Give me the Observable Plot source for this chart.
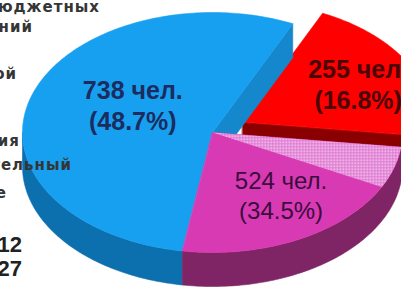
<!DOCTYPE html>
<html><head><meta charset="utf-8">
<script src="https://cdn.jsdelivr.net/npm/d3@7"></script>
<script src="https://cdn.jsdelivr.net/npm/@observablehq/plot@0.6"></script>
<style>
html,body{margin:0;padding:0;background:#fff;}
#chart{position:relative;width:401px;height:291px;overflow:hidden;background:#fff;}
#chart svg{position:absolute;left:0;top:0;}
.lg{position:absolute;white-space:nowrap;text-align:right;font-family:"DejaVu Sans",sans-serif;font-weight:bold;font-size:15px;line-height:15px;letter-spacing:1px;color:#353535;}
.lg.num{font-family:"Liberation Sans",Arial,sans-serif;font-size:22px;line-height:22px;letter-spacing:0;color:#222;}
</style></head><body><div id="chart"></div>
<script>
// ---- data ----
const categories = ["бюджетные учреждения", "казенные учреждения", "самостоятельный баланс"];
const people = [738, 255, 524];
const percents = [48.7, 16.8, 34.5];
const hatchShare = [0, 0, 0.17];          // part of the slice drawn with a dotted pattern
const legendLines = ["бюджетных", "учреждений", "казенной", "учреждения", "самостоятельный", "на балансе"];
const legendNumbers = ["2012", "2027"];

// ---- layout / style ----
const pieOrder = [1, 2, 0];               // drawing order around the pie
const explode = [0, 0.18, 0];
const topColor = ["#17a0f0", "#ff0000", "#d83ab4"];
const sideColor = ["#0c6fae", "#8a0000", "#7f2464"];
const cutColor = ["#1587cd", "#8a0000", "#8a2a6e"];
const labelColor = ["#1c2c5e", "#4a0505", "#3a0c3c"];
const labelWeight = ["bold", "bold", "normal"];
const labelPlace = [{k: 0.48, turn: 12}, {k: 0.69, turn: 1}, {k: 0.63, turn: 2}];
const legendLayout = [{end: 100, base: 13}, {end: 33, base: 33}, {end: 17, base: 80}, {end: 20, base: 147}, {end: 72, base: 171}, {end: 7, base: 199}];
const numLayout = [{end: 22, base: 253}, {end: 22, base: 277}];

const W = 401, H = 291;
const CX = 212, CY = 132, RX = 190, RY = 120, DEPTH = 34;
const START = -74.6, WARP_A = 21.1, WARP_B = 258.4;   // 3-D view projection of angles
const rad = Math.PI / 180;
const warp = t => t + WARP_A * Math.sin((t - WARP_B) * rad);
const rim = (phi, off, dz = 0) => ({x: CX + off.x + RX * Math.cos(phi * rad), y: CY + off.y + RY * Math.sin(phi * rad) + dz});
const arc = (a, b, off, dz = 0) => {
  const n = Math.max(2, Math.ceil(Math.abs(b - a)));
  return d3.range(n + 1).map(i => rim(a + (b - a) * i / n, off, dz));
};

const total = d3.sum(people);
let acc = START;
const slices = pieOrder.map(i => {
  const span = people[i] / total * 360;
  const a0 = acc, a1 = acc + span; acc = a1;
  const p0 = warp(a0), p1 = warp(a1), mid = (p0 + p1) / 2;
  const e = explode[i];
  const off = {x: e * RX * Math.cos(mid * rad), y: e * RY * Math.sin(mid * rad)};
  return {i, a0, a1, span, p0, p1, mid, off};
});

const polys = []; // painter's order
const n = slices.length;
const order = slices.map((s, j) => j).sort((a, b) => Math.sin(slices[a].mid * rad) - Math.sin(slices[b].mid * rad));
for (const j of order) {
  const s = slices[j], i = s.i;
  const prev = slices[(j - 1 + n) % n], next = slices[(j + 1) % n];
  const apex = {x: CX + s.off.x, y: CY + s.off.y};
  const apexD = {x: apex.x, y: apex.y + DEPTH};
  // outer wall (front part)
  for (let k = -1; k <= 1; k++) {
    const lo = Math.max(s.p0, 360 * k), hi = Math.min(s.p1, 360 * k + 180);
    if (hi > lo) polys.push({pts: [...arc(lo, hi, s.off), ...arc(hi, lo, s.off, DEPTH)], fill: sideColor[i]});
  }
  // cut faces beside an exploded gap
  if (Math.cos(s.p1 * rad) > 0 && (explode[i] || explode[next.i]))
    polys.push({pts: [apex, rim(s.p1, s.off), rim(s.p1, s.off, DEPTH), apexD], fill: cutColor[i]});
  if (Math.cos(s.p0 * rad) < 0 && (explode[i] || explode[prev.i]))
    polys.push({pts: [apex, rim(s.p0, s.off), rim(s.p0, s.off, DEPTH), apexD], fill: cutColor[i]});
  // top
  polys.push({pts: [apex, ...arc(s.p0, s.p1, s.off)], fill: topColor[i]});
  if (hatchShare[i] > 0) {
    const h1 = warp(s.a0 + s.span * hatchShare[i]);
    polys.push({pts: [apex, ...arc(s.p0, h1, s.off)], fill: "url(#hatch)", hatch: true});
  }
}

const labels = slices.map(s => {
  const i = s.i, p = labelPlace[i];
  const ang = (s.mid + p.turn) * rad;
  return {
    x: CX + s.off.x + p.k * RX * Math.cos(ang),
    y: CY + s.off.y + p.k * RY * Math.sin(ang),
    text: `${people[i]} чел.\n(${percents[i].toFixed(1)}%)`, i
  };
});

const marks = polys.map(p => Plot.line(p.pts, {x: "x", y: "y", curve: "linear-closed", fill: p.fill, stroke: p.hatch ? "none" : p.fill, strokeWidth: 0.6, className: p.hatch ? "hatchpoly" : undefined}));
for (const l of labels) {
  marks.push(Plot.text([l], {x: "x", y: "y", text: "text", fill: labelColor[l.i], fontSize: l.i === 2 ? 24 : 25,
    fontWeight: labelWeight[l.i], fontFamily: "Liberation Sans, Arial, sans-serif", lineHeight: 1.25}));
}

const svg = Plot.plot({
  width: W, height: H, margin: 0,
  x: {domain: [0, W], range: [0, W], axis: null},
  y: {domain: [0, H], range: [0, H], axis: null},
  style: {background: "transparent", overflow: "hidden"},
  marks
});
const defs = d3.select(svg).insert("defs", ":first-child");
const pat = defs.append("pattern").attr("id", "hatch").attr("patternUnits", "userSpaceOnUse").attr("width", 3).attr("height", 3);
pat.append("rect").attr("width", 3).attr("height", 3).attr("fill", "#e07ad2");
pat.append("rect").attr("width", 1.5).attr("height", 1.5).attr("fill", "#ffffff").attr("opacity", 0.8);
d3.select(svg).selectAll(".hatchpoly path").attr("fill", "url(#hatch)");

const chart = document.getElementById("chart");
chart.appendChild(svg);
const addLegend = (txt, lay, cls, asc) => {
  const d = document.createElement("div");
  d.className = cls; d.textContent = txt;
  d.style.right = (W - lay.end) + "px";
  d.style.top = (lay.base - asc) + "px";
  chart.appendChild(d);
};
legendLines.forEach((t, k) => addLegend(t, legendLayout[k], "lg", 12.7));
legendNumbers.forEach((t, k) => addLegend(t, numLayout[k], "lg num", 18.6));
</script></body></html>
